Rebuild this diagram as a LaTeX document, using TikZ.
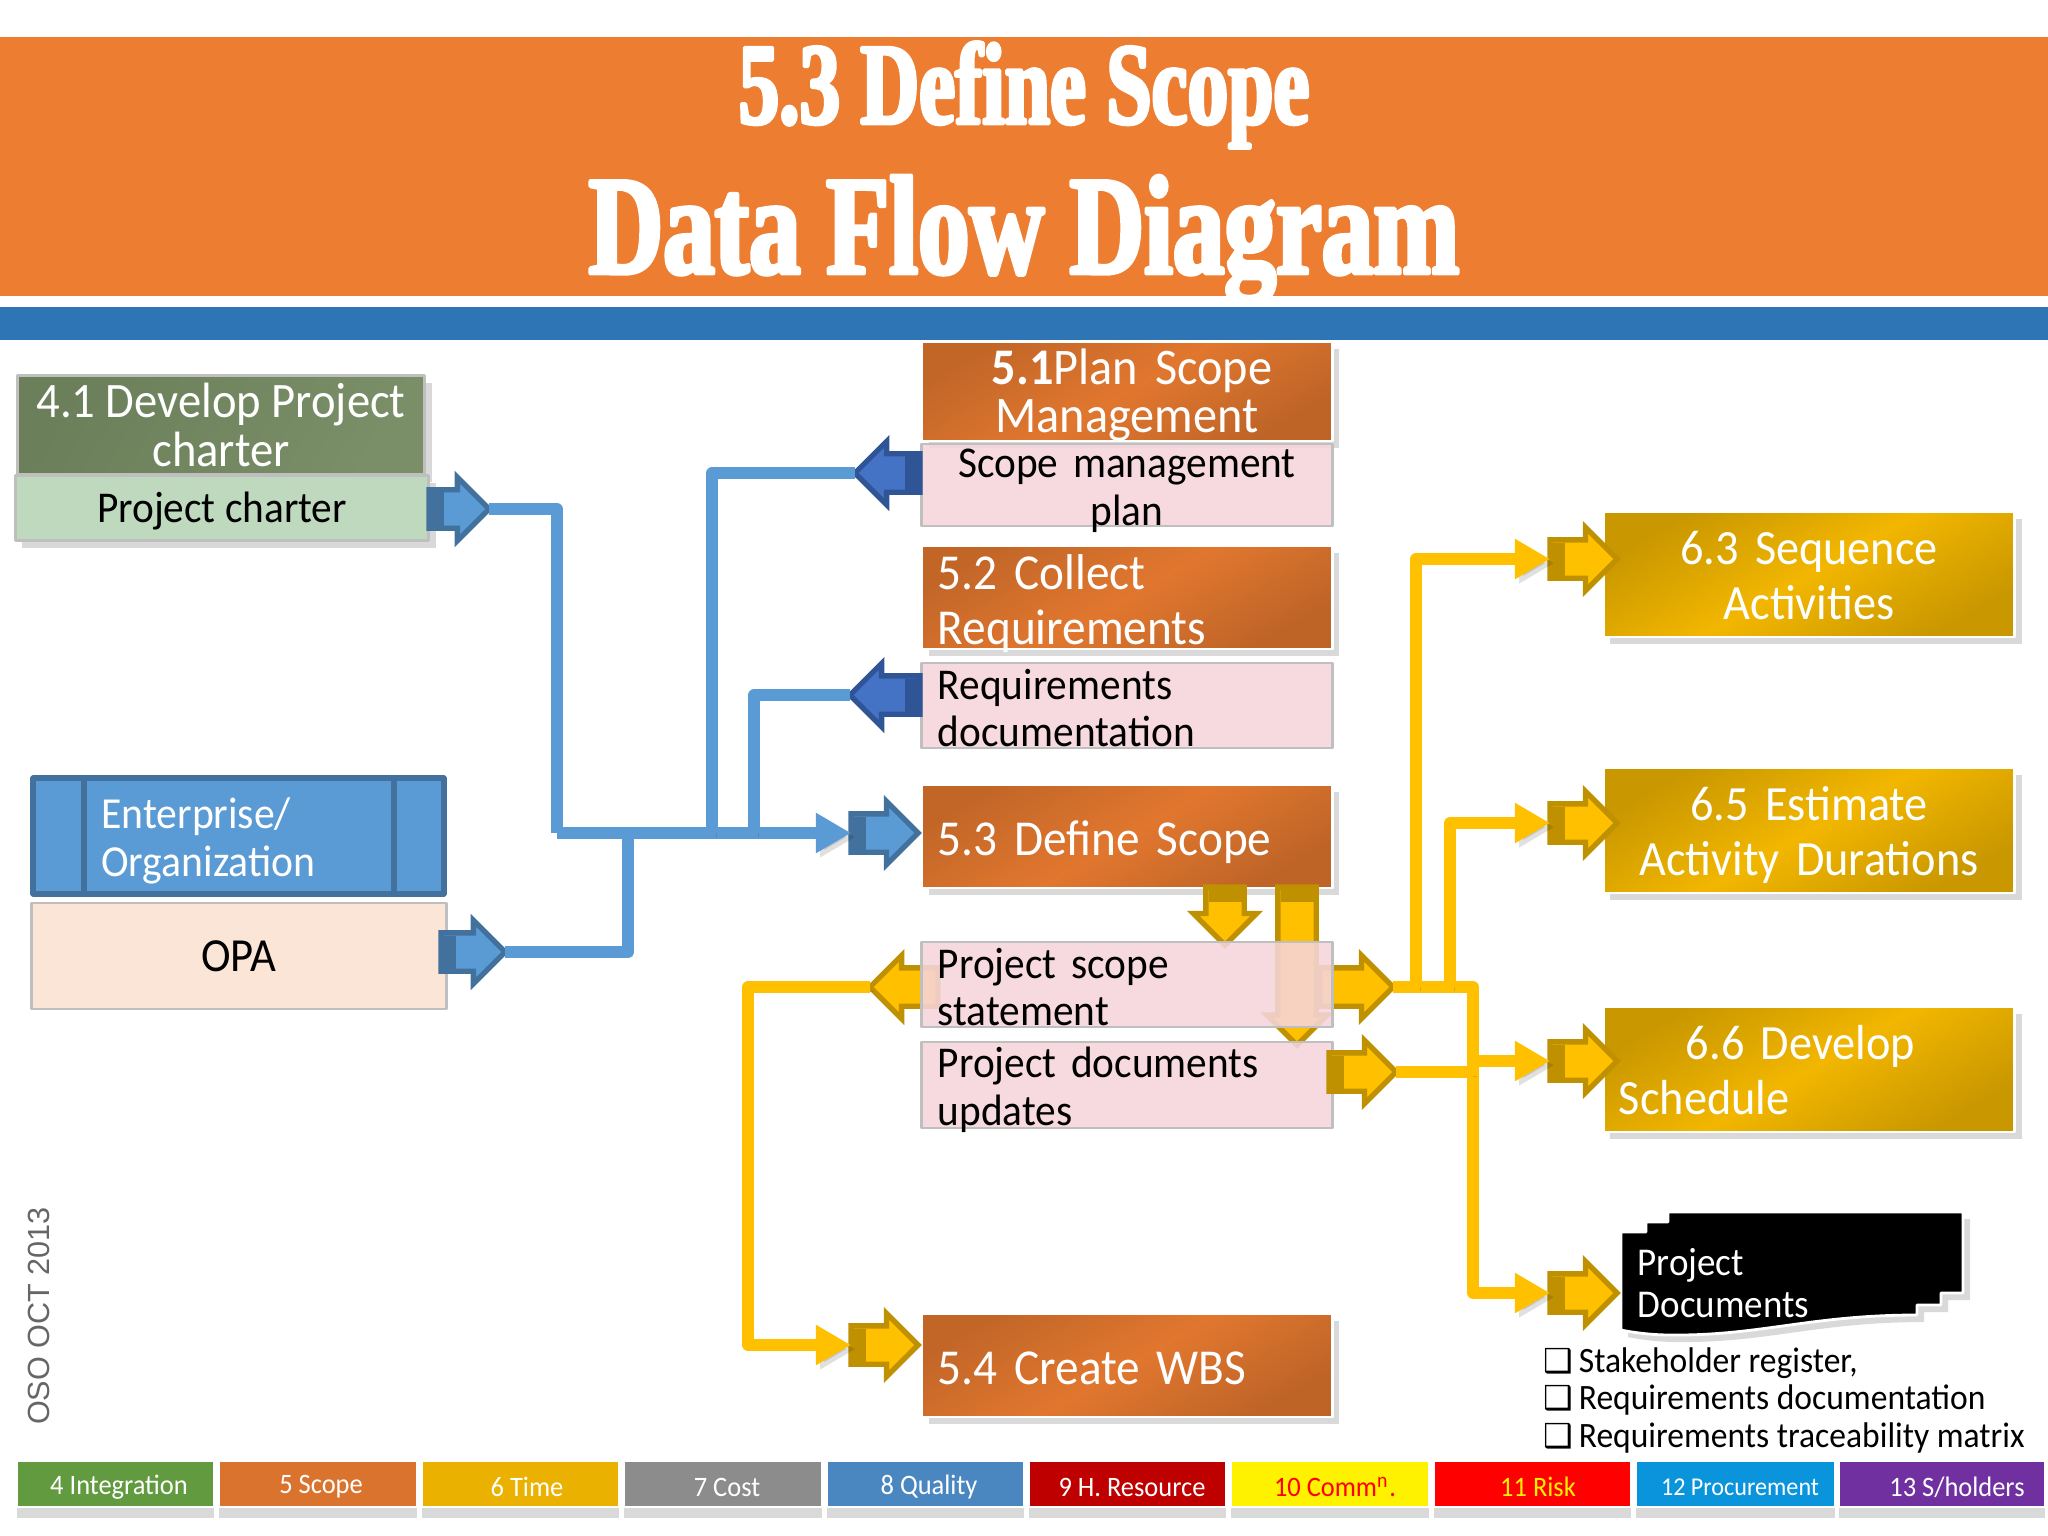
\documentclass[tikz,border=0pt]{standalone}
\usepackage{fontspec}
\usetikzlibrary{arrows.meta,shapes.arrows,shadows,calc}
\setmainfont{Carlito}[FakeStretch=0.94]
\setsansfont{Liberation Sans}
\newfontfamily\titlefont[FakeStretch=0.7,BoldFeatures={FakeBold=3}]{Liberation Serif}
\newfontfamily\titlefontwide[FakeStretch=0.733,BoldFeatures={FakeBold=3}]{Liberation Serif}
\newfontfamily\symfont{DejaVu Sans}
\definecolor{bandorange}{HTML}{ED7D31}
\definecolor{bandblue}{HTML}{2E75B6}
\definecolor{wireblue}{HTML}{5B9BD5}
\definecolor{edgeblue}{HTML}{41719C}
\definecolor{darkfill}{HTML}{4472C4}
\definecolor{darkedge}{HTML}{2F5597}
\definecolor{wireyellow}{HTML}{FFC000}
\definecolor{edgeyellow}{HTML}{BF9000}
\definecolor{pinkbox}{HTML}{F6D5DB}
\definecolor{peachbox}{HTML}{FBE5D6}
\definecolor{olivea}{HTML}{6B7F5A}
\definecolor{oliveb}{HTML}{7A8F68}
\tikzset{
	droptext/.style = {/utils/exec={\def\droph{#1}}, execute at begin node={\rule{0pt}{\droph}}},
	bevel/.style = {draw=white, line width=0.8pt, inner sep=0pt, outer sep=0pt, drop shadow={shadow xshift=2pt, shadow yshift=-2pt, opacity=0.3}},
	orangebox/.style = {bevel, inner ysep=-0.3cm, left color=black!18!bandorange, right color=black!20!bandorange, middle color=bandorange!95!black, shading angle=30, text=white, minimum width=4.1cm, font=\fontsize{14.3}{15.6}\selectfont, align=left, text width=3.78cm, droptext=13.2pt},
	goldbox/.style = {bevel, inner ysep=-0.3cm, left color=edgeyellow!85!wireyellow, right color=edgeyellow!85!wireyellow, middle color=wireyellow!95!black, shading angle=30, text=white, minimum width=4.11cm, minimum height=1.25cm, font=\fontsize{14}{15.6}\selectfont, align=center, text width=3.8cm, droptext=10.2pt},
	pinkbase/.style = {draw=black!25, line width=0.8pt, inner xsep=0pt, inner ysep=-0.3cm, outer sep=0pt, fill=pinkbox, fill opacity=0.88, text opacity=1, minimum width=4.1cm, font=\fontsize{12.5}{13.6}\selectfont, align=left, text width=3.78cm, droptext=11.4pt},
	blockarrow/.style = {single arrow, single arrow head extend=0.125cm, inner sep=0pt, outer sep=0pt, text height=0.33cm, text depth=0pt, line width=1.5pt, line join=miter},
	bluearrow/.style = {blockarrow, draw=edgeblue, fill=wireblue},
	darkarrow/.style = {blockarrow, draw=darkedge, fill=darkfill},
	goldarrow/.style = {blockarrow, draw=edgeyellow, fill=wireyellow},
	softedge/.style = {preaction={draw=black, opacity=0.12, transform canvas={shift={(1.2pt,-1.2pt)}}}},
	bluewire/.style = {softedge, draw=wireblue, line width=3.2pt},
	goldwire/.style = {softedge, draw=wireyellow, line width=3.2pt},
	smallhead/.style = {-{Triangle[length=10pt,width=10.8pt]}},
	listline/.style = {font=\fontsize{10.15}{12}\selectfont, anchor=west, inner sep=0pt}
}
\newcommand{\checkbullet}{\makebox[10pt][l]{\symfont\fontsize{9.4}{12}\selectfont ❑}}
\begin{document}
\begin{tikzpicture}[x=0.01cm, y=-0.01cm, line join=round, >=stealth]
	\useasboundingbox (0,0) rectangle (2048,1536);
	\fill[bandorange] (0,37) rectangle (2048,296);
	\fill[bandblue] (0,307) rectangle (2048,340);
	\node[text=white, font=\titlefont\bfseries\fontsize{33}{36}\selectfont] (title1) at (1024,95) {5.3 Define Scope};
	\node[text=white, font=\titlefontwide\bfseries\fontsize{40}{44}\selectfont] (title2) at (1024,240) {Data Flow Diagram};
	% left column
	\node[bevel, draw=black!25, left color=olivea, right color=oliveb, shading angle=60, text=white, minimum width=4.07cm, minimum height=0.99cm, align=center, font=\fontsize{14.1}{13.9}\selectfont] (n41) at (221,425) {4.1 Develop Project\\charter};
	\node[bevel, draw=black!25, fill=green!40!black!25!white, minimum width=4.13cm, minimum height=0.65cm, font=\fontsize{12.5}{14}\selectfont, droptext=10.5pt] (charter) at (222,508) {Project charter};
	\node[draw=edgeblue, line width=1.7pt, fill=wireblue, inner xsep=0pt, inner ysep=-0.1cm, minimum width=4.1cm, minimum height=1.15cm, text=white, align=left, text width=3.44cm, font=\fontsize{12.6}{13.6}\selectfont, droptext=11.6pt] (ent) at (238.5,836) {\hspace*{0.35cm}Enterprise/\\\hspace*{0.35cm}Organization};
	\draw[edgeblue, line width=1.7pt] ([xshift=0.54cm]ent.north west) -- ([xshift=0.54cm]ent.south west);
	\draw[edgeblue, line width=1.7pt] ([xshift=-0.53cm]ent.north east) -- ([xshift=-0.53cm]ent.south east);
	\node[draw=black!25, line width=0.8pt, fill=peachbox, inner sep=0pt, minimum width=4.14cm, minimum height=1.06cm, font=\fontsize{13.5}{15}\selectfont] (opa) at (239,956) {OPA};
	% middle column
	\node[orangebox, minimum height=0.99cm, align=center, font=\fontsize{14.6}{13.7}\selectfont\bfseries, droptext=12.3pt] (p51) at (1127,391.5) {\hspace*{0.1cm}5.1\mdseries Plan Scope\\\mdseries Management};
	\node[pinkbase, minimum height=0.82cm, align=center] (planbox) at (1127,485) {Scope management\\plan};
	\node[orangebox, minimum height=1.03cm] (p52) at (1127,597.5) {5.2 Collect\\Requirements};
	\node[pinkbase, minimum height=0.85cm, droptext=10pt] (reqbox) at (1127,705.5) {Requirements\\documentation};
	\node[orangebox, minimum height=1.03cm] (p53) at (1127,836.5) {5.3 Define Scope};
	\node[orangebox, minimum height=1.03cm, droptext=11pt] (p54) at (1127,1365.5) {5.4 Create WBS};
	\node[goldarrow, rotate=270, anchor=tail, minimum height=0.58cm] (dn1) at (1225,887) {};
	\node[goldarrow, rotate=270, anchor=tail, minimum height=1.58cm, single arrow head extend=0.11cm] (dn2) at (1297,887) {};
	\node[goldarrow, shape border rotate=180, anchor=tail, minimum height=0.68cm] (pssleft) at (938,987) {};
	\node[goldarrow, anchor=tail, minimum height=0.73cm] (apssr) at (1320,987) {};
	\foreach \n in {dn1,dn2}
		\draw[edgeyellow, line width=0.33cm] (\n.tail) -- ($(\n.tail)!0.15cm!(\n.tip)$);
	\node[pinkbase, minimum height=0.85cm, droptext=10pt] (pss) at (1127,984.5) {Project scope\\statement};
	\node[pinkbase, minimum height=0.86cm] (pdu) at (1127,1085) {Project documents\\updates};
	% right column
	\node[goldbox] (p63) at (1809,574.5) {6.3 Sequence\\Activities};
	\node[goldbox, droptext=12.4pt] (p65) at (1809,830.5) {6.5 Estimate\\Activity Durations};
	\node[goldbox, align=left] (p66) at (1809,1069.5) {\hspace*{0.67cm}6.6 Develop\\Schedule};
	\draw[white, line width=0.8pt, fill=black, drop shadow={shadow xshift=2pt, shadow yshift=-2pt, opacity=0.3}] (1668,1212) -- (1963,1212) -- (1963,1293) -- (1941,1293) -- (1941,1305) -- (1917,1305) -- (1917,1315) .. controls (1810,1315) and (1760,1336) .. (1670,1335) .. controls (1650,1335) and (1630,1332) .. (1621,1330) -- (1621,1232) -- (1646,1232) -- (1646,1222) -- (1668,1222) -- cycle;
	\node[text=white, anchor=west, align=left, inner sep=0pt, font=\fontsize{11.2}{11.9}\selectfont] (docs) at (1637,1283) {Project\\Documents};
	\node[listline] (item1) at (1543,1363) {\checkbullet Stakeholder register,};
	\node[listline] (item2) at (1543,1400) {\checkbullet Requirements documentation};
	\node[listline] (item3) at (1543,1438) {\checkbullet Requirements traceability matrix};
	% block arrows
	\node[bluearrow, anchor=tail, minimum height=0.6cm] (acharter) at (429,509) {};
	\node[bluearrow, anchor=tail, minimum height=0.64cm] (aopa) at (441,952) {};
	\node[darkarrow, shape border rotate=180, anchor=tail, minimum height=0.65cm] (aplan) at (920,473) {};
	\node[darkarrow, shape border rotate=180, anchor=tail, minimum height=0.7cm] (areq) at (920,695) {};
	\node[bluearrow, anchor=tail, minimum height=0.67cm] (a53) at (851,833) {};
	\node[goldarrow, anchor=tail, minimum height=0.67cm] (apdu) at (1329,1072) {};
	\node[goldarrow, anchor=tail, minimum height=0.67cm] (a54) at (851,1345) {};
	\node[goldarrow, anchor=tail, minimum height=0.67cm] (a63) at (1550,559) {};
	\node[goldarrow, anchor=tail, minimum height=0.67cm] (a65) at (1550,823) {};
	\node[goldarrow, anchor=tail, minimum height=0.67cm] (a66) at (1550,1061) {};
	\node[goldarrow, anchor=tail, minimum height=0.67cm] (apd) at (1550,1293) {};
	\foreach \n in {acharter,aopa,a53}
		\draw[edgeblue, line width=0.33cm] (\n.tail) -- ($(\n.tail)!0.15cm!(\n.tip)$);
	\foreach \n in {aplan,areq}
		\draw[darkedge, line width=0.33cm] (\n.tail) -- ($(\n.tail)!0.15cm!(\n.tip)$);
	\foreach \n in {apdu,a54,a63,a65,a66,apd}
		\draw[edgeyellow, line width=0.33cm] (\n.tail) -- ($(\n.tail)!0.15cm!(\n.tip)$);
	\path
	(557,833) coordinate (B1)
	(628,833) coordinate (B2)
	(712,833) coordinate (B3)
	(754,833) coordinate (B4)
	(1416,987) coordinate (Y1)
	(1450,987) coordinate (Y2)
	(1473,987) coordinate (Y3)
	(1473,1072) coordinate (Y4)
	(1473,1061) coordinate (Y5)
	(748,987) coordinate (Y6)
	;
	% connectors
	\draw[bluewire] (acharter.tip) -| (B1);
	\draw[bluewire, smallhead] (B1) -- (a53.tail);
	\draw[bluewire] (aopa.tip) -| (B2);
	\draw[bluewire] (B3) |- (aplan.tip);
	\draw[bluewire] (B4) |- (areq.tip);
	\draw[goldwire, smallhead] (apssr.tip) -- (Y3) |- (apd.tail);
	\draw[goldwire, smallhead] (Y1) |- (a63.tail);
	\draw[goldwire, smallhead] (Y2) |- (a65.tail);
	\draw[goldwire] (apdu.tip) -- (Y4);
	\draw[goldwire, smallhead] (Y5) -- (a66.tail);
	\draw[goldwire, smallhead] (pssleft.tip) -- (Y6) |- (a54.tail);
	% tabs
	\definecolor{tabgreen}{HTML}{629B3F}
	\definecolor{tabblue}{HTML}{4A86C0}
	\definecolor{tabpurple}{HTML}{7030A0}
	\foreach \xa/\xb/\colr/\txt/\lab/\pos in {
		17/214/tabgreen/white/4 Integration/119,
		219/417/{black!8!bandorange}/white/5 Scope/321,
		422/619/{black!8!wireyellow}/white/6 Time/527,
		624/822/{black!45}/white/7 Cost/727,
		827/1024/tabblue/white/8 Quality/929,
		1029/1226/{red!75!black}/white/9 H. Resource/1132,
		1231/1429/yellow/red/{10 Comm\textsuperscript{n}.}/1335,
		1434/1631/red/yellow/11 Risk/1538,
		1636/1835/{cyan!80!blue}/white/{\fontsize{7.3}{9}\selectfont 12 Procurement}/1740,
		1839/2045/tabpurple/white/{13 S/holders}/1957}
	{
		\fill[draw=white, line width=0.8pt, fill=\colr, drop shadow={shadow xshift=0pt, shadow yshift=-3pt, opacity=0.3}] (\xa,1461) rectangle (\xb,1507);
		\node[text=\txt, inner sep=0pt, font=\fontsize{8}{9}\selectfont] (tab\xa) at (\pos,1487) {\lab};
	}
	\node[rotate=90, text=black!60, inner sep=0pt, font=\sffamily\fontsize{8.7}{10}\selectfont] (stamp) at (39,1316) {OSO OCT 2013};
\end{tikzpicture}
\end{document}
